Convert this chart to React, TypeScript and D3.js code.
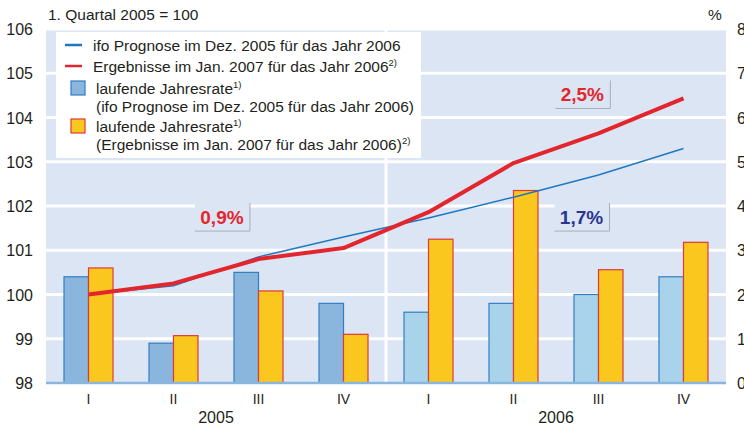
import { useEffect, useRef } from "react"
import * as d3 from "d3"

// quarters on the x axis, two years
const quarters = ["I", "II", "III", "IV", "I", "II", "III", "IV"]
const years = ["2005", "2006"]
const leftTicks = [98, 99, 100, 101, 102, 103, 104, 105, 106]
const rightTicks = [0, 1, 2, 3, 4, 5, 6, 7, 8]

// index, 1. Quartal 2005 = 100
const ifoIndex = [100, 100.2, 100.85, 101.3, 101.73, 102.2, 102.7, 103.3]
const resultIndex = [100, 100.25, 100.8, 101.05, 101.86, 102.97, 103.64, 104.43]

// laufende Jahresrate in %
const ifoRate = [2.4, 0.9, 2.5, 1.8, 1.6, 1.8, 2.0, 2.4]
const resultRate = [2.6, 1.07, 2.08, 1.1, 3.25, 4.35, 2.56, 3.18]

// annual rate call-outs: [label, x in quarter units, y in index units, colour]
const callouts: [string, number, number, string][] = [
  ["0,9%", 2.07, 101.75, "#e3262d"],
  ["1,7%", 6.3, 101.75, "#2b3590"],
  ["2,5%", 6.31, 104.52, "#e3262d"],
]

export default function App() {
  const svgRef = useRef<SVGSVGElement>(null)

  useEffect(() => {
    if (!svgRef.current) return
    const svg = d3.select(svgRef.current)
    svg.selectAll("*").remove()

    const width = 744
    const height = 430
    const margin = { top: 29, right: 18, bottom: 47, left: 46 }
    const innerW = width - margin.left - margin.right
    const innerH = height - margin.top - margin.bottom
    const font = "Liberation Sans, Arial, sans-serif"

    const x = d3.scaleBand<number>().domain(d3.range(quarters.length)).range([0, innerW])
    const xPos = d3.scaleLinear().domain([0, quarters.length]).range([0, innerW])
    const yL = d3.scaleLinear().domain([98, 106]).range([innerH, 0])
    const yR = d3.scaleLinear().domain([0, 8]).range([innerH, 0])

    const g = svg.append("g").attr("transform", `translate(${margin.left},${margin.top})`)

    // background + white grid
    g.append("rect").attr("width", innerW).attr("height", innerH).attr("fill", "#dbe5f4")
    g.selectAll("line.grid")
      .data(leftTicks.slice(1))
      .enter()
      .append("line")
      .attr("x1", 0)
      .attr("x2", innerW)
      .attr("y1", (d) => yL(d))
      .attr("y2", (d) => yL(d))
      .attr("stroke", "#fff")
      .attr("stroke-width", 3)
    g.append("line")
      .attr("x1", xPos(4))
      .attr("x2", xPos(4))
      .attr("y1", 0)
      .attr("y2", innerH)
      .attr("stroke", "#fff")
      .attr("stroke-width", 3)

    // bars
    const barW = 24.5
    quarters.forEach((_, i) => {
      const cx = x(i)! + x.bandwidth() / 2
      g.append("rect")
        .attr("x", cx - barW)
        .attr("y", yR(ifoRate[i]))
        .attr("width", barW)
        .attr("height", innerH - yR(ifoRate[i]))
        .attr("fill", i < 4 ? "#8ab6de" : "#a9d3eb")
        .attr("stroke", "#2f7fc0")
        .attr("stroke-width", 1.2)
      g.append("rect")
        .attr("x", cx)
        .attr("y", yR(resultRate[i]))
        .attr("width", barW)
        .attr("height", innerH - yR(resultRate[i]))
        .attr("fill", "#fac71e")
        .attr("stroke", "#e0393a")
        .attr("stroke-width", 1.2)
    })

    // baseline
    g.append("line")
      .attr("x1", 0)
      .attr("x2", innerW)
      .attr("y1", innerH)
      .attr("y2", innerH)
      .attr("stroke", "#8ab6de")
      .attr("stroke-width", 2.5)

    // lines
    const line = d3
      .line<number>()
      .x((_, i) => x(i)! + x.bandwidth() / 2)
      .y((d) => yL(d))
    g.append("path")
      .datum(ifoIndex)
      .attr("d", line)
      .attr("fill", "none")
      .attr("stroke", "#1f78c1")
      .attr("stroke-width", 1.5)
    g.append("path")
      .datum(resultIndex)
      .attr("d", line)
      .attr("fill", "none")
      .attr("stroke", "#e3262d")
      .attr("stroke-width", 4)
      .attr("stroke-linejoin", "round")

    // call-out boxes
    callouts.forEach(([label, cx, cy, color]) => {
      const bx = xPos(cx)
      const by = yL(cy)
      g.append("rect")
        .attr("x", bx - 27)
        .attr("y", by - 14)
        .attr("width", 55)
        .attr("height", 28)
        .attr("fill", "#dbe5f4")
      g.append("path")
        .attr("d", `M${bx + 28},${by - 14}V${by + 14}H${bx - 27}`)
        .attr("fill", "none")
        .attr("stroke", "#a8aeb8")
        .attr("stroke-width", 1)
      g.append("text")
        .attr("x", bx)
        .attr("y", by + 7)
        .attr("text-anchor", "middle")
        .attr("font-family", font)
        .attr("font-weight", "bold")
        .attr("font-size", 19)
        .attr("fill", color)
        .text(label)
    })

    // legend
    const lg = g.append("g").attr("transform", "translate(10,3)")
    lg.append("rect").attr("width", 365).attr("height", 126).attr("fill", "#fff")
    const txt = (yy: number, s: string, sup?: string, tx = 37) => {
      const t = lg.append("text")
        .attr("x", tx)
        .attr("y", yy)
        .attr("font-family", font)
        .attr("font-size", 15.5)
        .attr("fill", "#231f20")
        .text(s)
      if (sup) {
        t.append("tspan").attr("font-size", 9.5).attr("dy", -6).text(sup)
      }
    }
    lg.append("line").attr("x1", 9).attr("x2", 26).attr("y1", 13).attr("y2", 13)
      .attr("stroke", "#1f78c1").attr("stroke-width", 2.5)
    txt(19, "ifo Prognose im Dez. 2005 für das Jahr 2006")
    lg.append("line").attr("x1", 9).attr("x2", 26).attr("y1", 34).attr("y2", 34)
      .attr("stroke", "#e3262d").attr("stroke-width", 2.5)
    txt(40, "Ergebnisse im Jan. 2007 für das Jahr 2006", "2)")
    lg.append("rect").attr("x", 15).attr("y", 49).attr("width", 14).attr("height", 14)
      .attr("fill", "#8ab6de").attr("stroke", "#2f7fc0").attr("stroke-width", 1.2)
    txt(62, "laufende Jahresrate", "1)", 40)
    txt(80, "(ifo Prognose im Dez. 2005 für das Jahr 2006)", undefined, 40)
    lg.append("rect").attr("x", 15).attr("y", 87).attr("width", 14).attr("height", 14)
      .attr("fill", "#fac71e").attr("stroke", "#e0393a").attr("stroke-width", 1.2)
    txt(100, "laufende Jahresrate", "1)", 40)
    txt(118, "(Ergebnisse im Jan. 2007 für das Jahr 2006)", "2)", 40)

    // left axis labels
    g.selectAll("text.yl")
      .data(leftTicks)
      .enter()
      .append("text")
      .attr("x", -13)
      .attr("y", (d) => yL(d) + 6)
      .attr("text-anchor", "end")
      .attr("font-family", font)
      .attr("font-size", 16)
      .attr("fill", "#231f20")
      .text((d) => d)

    // right axis labels
    g.selectAll("text.yr")
      .data(rightTicks)
      .enter()
      .append("text")
      .attr("x", innerW + 11)
      .attr("y", (d) => yR(d) + 6)
      .attr("font-family", font)
      .attr("font-size", 16)
      .attr("fill", "#231f20")
      .text((d) => d)

    // x labels
    g.selectAll("text.xq")
      .data(quarters)
      .enter()
      .append("text")
      .attr("x", (_, i) => x(i)! + x.bandwidth() / 2)
      .attr("y", innerH + 21)
      .attr("text-anchor", "middle")
      .attr("font-family", font)
      .attr("font-size", 14)
      .attr("fill", "#231f20")
      .text((d) => d)
    years.forEach((yr, i) => {
      g.append("text")
        .attr("x", xPos(i * 4 + 2))
        .attr("y", innerH + 40)
        .attr("text-anchor", "middle")
        .attr("font-family", font)
        .attr("font-size", 16)
        .attr("fill", "#231f20")
        .text(yr)
    })

    // titles
    svg.append("text")
      .attr("x", 48)
      .attr("y", 20)
      .attr("font-family", font)
      .attr("font-size", 15.5)
      .attr("fill", "#231f20")
      .text("1. Quartal 2005 = 100")
    svg.append("text")
      .attr("x", 708)
      .attr("y", 20)
      .attr("font-family", font)
      .attr("font-size", 15.5)
      .attr("fill", "#231f20")
      .text("%")
  }, [])

  return (
    <svg
      ref={svgRef}
      width={744}
      height={430}
      style={{ position: "absolute", left: 0, top: 0, background: "#fff" }}
    />
  )
}
